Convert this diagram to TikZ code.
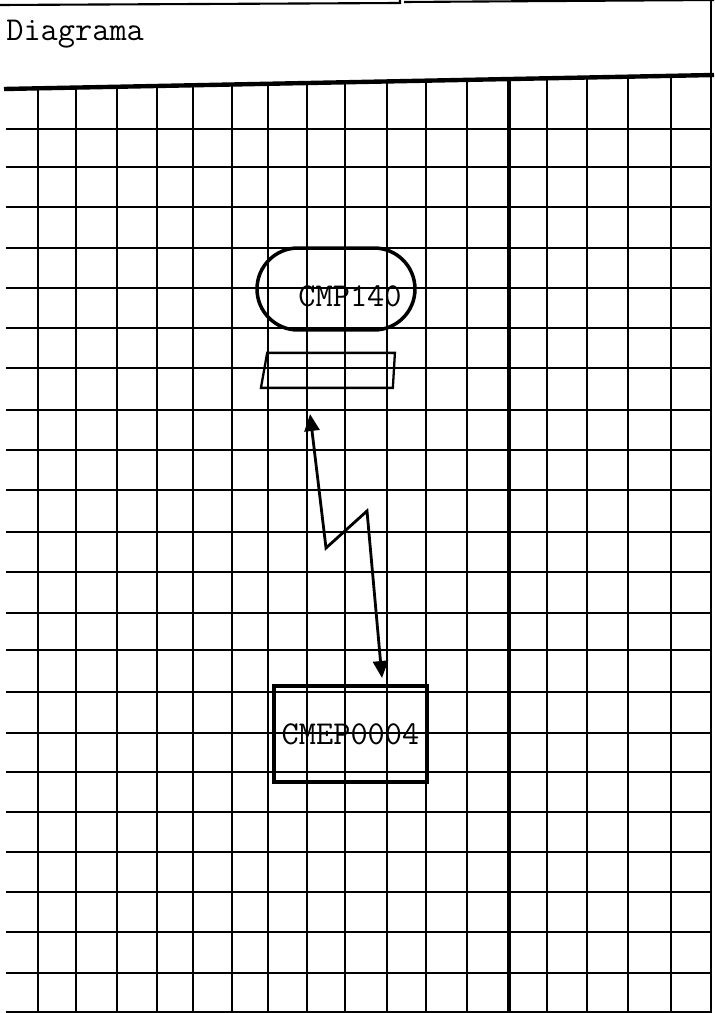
\documentclass[tikz,border=0pt]{standalone}
\usepackage{tikz}
\usetikzlibrary{arrows.meta, calc, positioning, shapes.geometric}

\begin{document}
\begin{tikzpicture}[
    x=0.02cm, y=-0.02cm,
    font=\fontsize{19}{22}\selectfont\ttfamily,
    grid/.style={line width=1.5pt},
    term/.style={rectangle, draw, line width=2pt, rounded corners=0.82cm, minimum width=3.16cm, minimum height=1.64cm},
    io/.style={trapezium, draw, line width=1.3pt, trapezium left angle=62, trapezium right angle=100, trapezium stretches body=true, minimum width=2.68cm, minimum height=0.7cm},
    proc/.style={rectangle, draw, line width=2pt, minimum width=3.06cm, minimum height=1.92cm, inner sep=0pt},
    bolt/.style={{Triangle[length=0.34cm, width=0.3cm]}-{Triangle[length=0.34cm, width=0.3cm]}, line width=1.6pt}
]
    \useasboundingbox (0,0) rectangle (714,1013);

    % cabecera
    \draw[line width=1.2pt] (0,5) -- (400,3) -- (400,0);
    \draw[line width=1.2pt] (404,2) -- (714,0);
    \draw[line width=1.6pt] (711,0) -- (711,1013);
    \node[anchor=base west, inner sep=0pt] (title) at (6,41) {Diagrama};
    \draw[line width=2.5pt] (4,89) -- (714,75);

    % cuadricula
    \foreach \gx in {38,76,117,157,193,232,268,307,345,387,426,467,547,587,628,671}
        \draw[grid] (\gx,{89-0.0196*\gx}) -- (\gx,1013);
    \draw[grid, line width=2.3pt] (509,79) -- (509,1013);
    \foreach \gy in {129,167,207,248,288,328,368,410,450,490,532,572,613,650,692,733,772,812,852,892,932,973,1012}
        \draw[grid, line width=1.3pt] (6,\gy) -- (711,\gy);

    % terminal
    \node[term] (cmp) at (336,289) {};
    \node[inner sep=0pt] (cmplbl) at ($(cmp.center)+(14,7)$) {CMP140};

    % entrada / salida
    \node[io, below=0.4cm of cmp, xshift=-0.12cm] (entrada) {};

    % proceso
    \node[proc] (cmep) at (350.5,734) {CMEP0004};

    % enlace
    \coordinate (zt) at (310,414);
    \coordinate (zk1) at (326,548);
    \coordinate (zk2) at (367,511);
    \coordinate (zb) at (382,678);
    \draw[bolt] (zt) -- (zk1) -- (zk2) -- (zb);
\end{tikzpicture}
\end{document}
